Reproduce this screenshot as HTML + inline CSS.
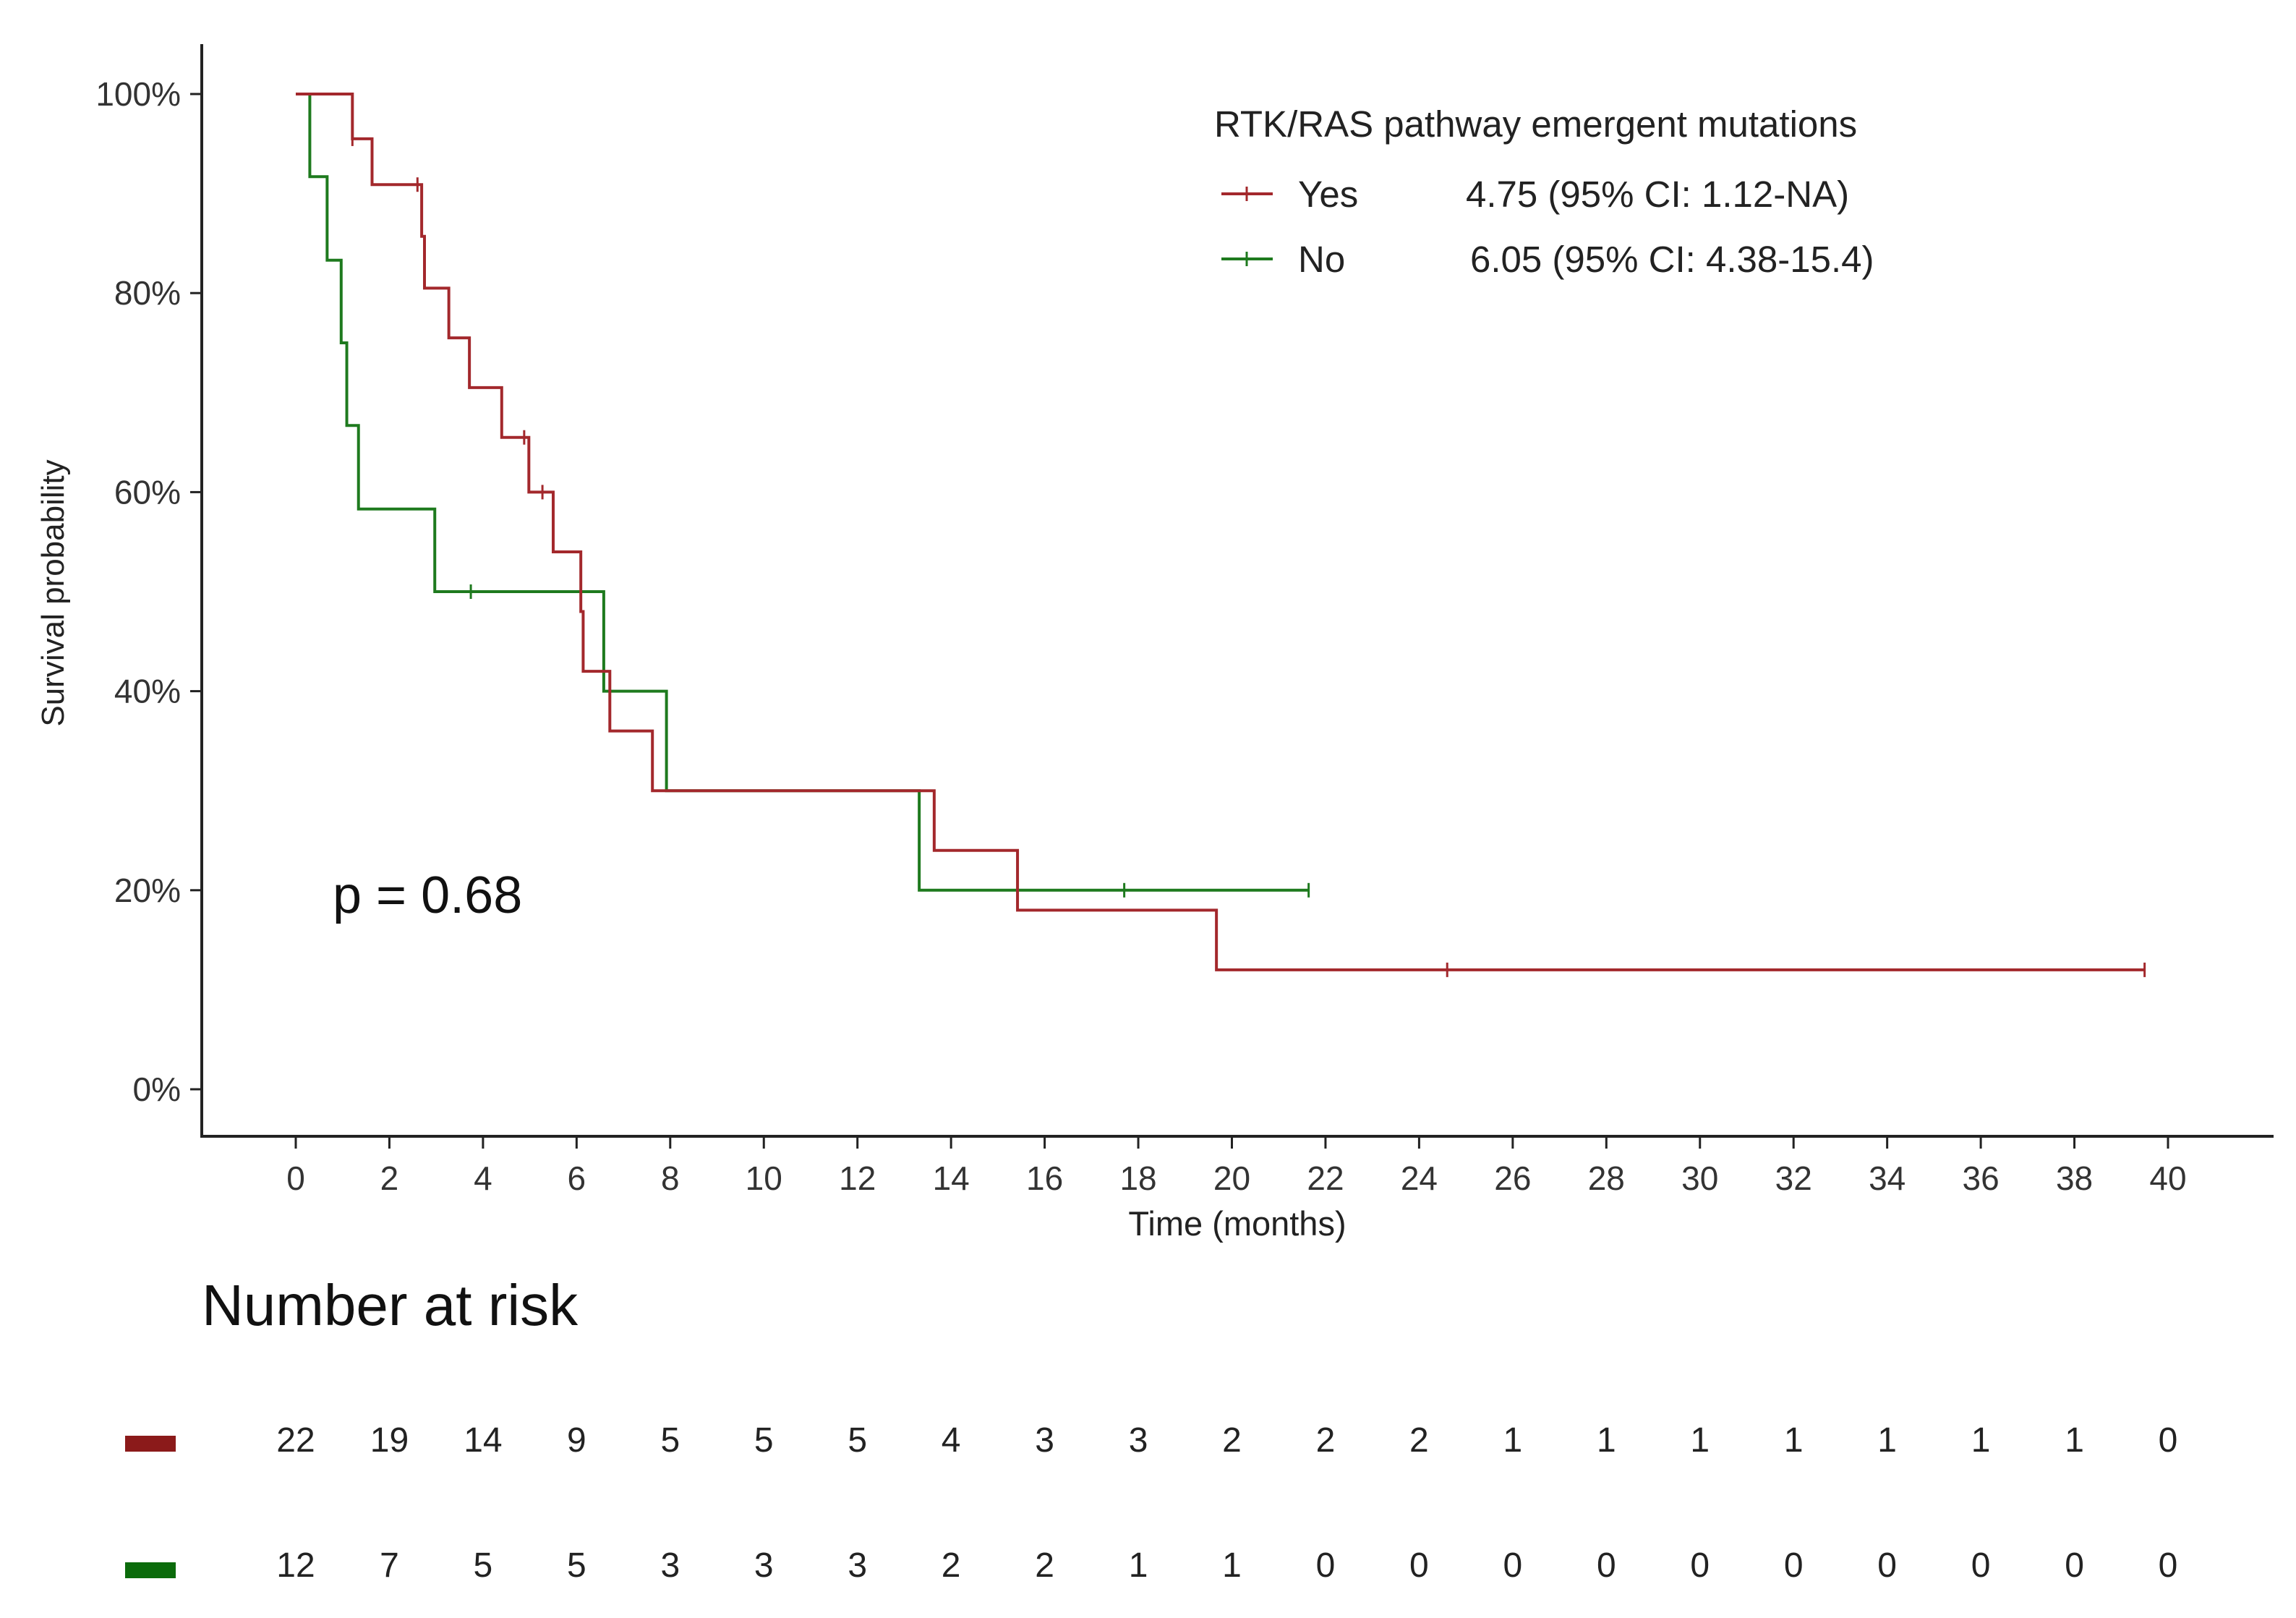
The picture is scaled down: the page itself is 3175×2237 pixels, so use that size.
<!DOCTYPE html>
<html><head><meta charset="utf-8"><style>
html,body{margin:0;padding:0;background:#fff;}
svg{display:block;font-family:"Liberation Sans",Arial,sans-serif;}
</style></head><body>
<svg id="chart" width="3175" height="2237" viewBox="0 0 3175 2237" xmlns="http://www.w3.org/2000/svg">
<g id="axes"></g>
<g id="curves"></g>
<g id="legend">
<text x="1679" y="189" font-size="51" fill="#222">RTK/RAS pathway emergent mutations</text>
<line x1="1689" y1="268" x2="1760" y2="268" stroke="#a3282c" stroke-width="4"/>
<line x1="1724" y1="258" x2="1724" y2="278" stroke="#a3282c" stroke-width="3"/>
<text x="1795" y="286" font-size="51" fill="#222">Yes</text>
<text x="2027" y="286" font-size="51" fill="#222">4.75 (95% CI: 1.12-NA)</text>
<line x1="1689" y1="358" x2="1760" y2="358" stroke="#1e7a1e" stroke-width="4"/>
<line x1="1724" y1="348" x2="1724" y2="368" stroke="#1e7a1e" stroke-width="3"/>
<text x="1795" y="376" font-size="51" fill="#222">No</text>
<text x="2033" y="376" font-size="51" fill="#222">6.05 (95% CI: 4.38-15.4)</text>
</g>
<text x="460" y="1262" font-size="72" fill="#111">p = 0.68</text>
<text x="279" y="1832" font-size="80" fill="#111">Number at risk</text>
<rect x="173" y="1985" width="70" height="22" fill="#8b1a1a"/>
<rect x="173" y="2160" width="70" height="22" fill="#0b6b0b"/>
<g id="risk"></g>
</svg>
<script>
const yTicks = [0, 0.2, 0.4, 0.6, 0.8, 1.0];
const yTickLabels = ["0%", "20%", "40%", "60%", "80%", "100%"];
const xTicks = [0,2,4,6,8,10,12,14,16,18,20,22,24,26,28,30,32,34,36,38,40];
const yesTimes = [0, 1.21, 1.63, 2.69, 2.75, 3.27, 3.71, 4.4, 4.98, 5.5, 6.09, 6.14, 6.71, 7.62, 13.64, 15.42, 19.67, 39.5];
const yesSurv  = [1.0, 0.955, 0.909, 0.857, 0.805, 0.755, 0.705, 0.655, 0.60, 0.54, 0.48, 0.42, 0.36, 0.30, 0.24, 0.18, 0.12, 0.12];
const yesCensorT = [1.21, 2.6, 4.88, 5.27, 24.6, 39.5];
const noTimes = [0, 0.3, 0.67, 0.97, 1.09, 1.34, 2.97, 6.58, 7.92, 13.32, 21.64];
const noSurv  = [1.0, 0.917, 0.833, 0.75, 0.667, 0.583, 0.50, 0.40, 0.30, 0.20, 0.20];
const noCensorT = [3.74, 17.7, 21.64];
const riskYes = [22,19,14,9,5,5,5,4,3,3,2,2,2,1,1,1,1,1,1,1,0];
const riskNo  = [12,7,5,5,3,3,3,2,2,1,1,0,0,0,0,0,0,0,0,0,0];

const NS = "http://www.w3.org/2000/svg";
const X = t => 409 + t * (2998 - 409) / 40;
const Y = s => 1506 - s * (1506 - 130);
function mk(tag, attrs, parent){ const e=document.createElementNS(NS,tag); for(const k in attrs) e.setAttribute(k,attrs[k]); parent.appendChild(e); return e; }

const axes = document.getElementById('axes');
let el = mk('line',{x1:279,y1:61,x2:279,y2:1573,stroke:'#222','stroke-width':4},axes);


el = mk('line',{x1:277,y1:1571,x2:3144,y2:1571,stroke:'#222','stroke-width':4},axes);


yTicks.forEach((v,i)=>{
  const t = mk('line',{x1:263,y1:Y(v),x2:279,y2:Y(v),stroke:'#222','stroke-width':3},axes);
  
  
  const l = mk('text',{x:250,y:Y(v)+16,'font-size':46,'text-anchor':'end',fill:'#333'},axes);
  l.textContent = yTickLabels[i];
  
  
});
xTicks.forEach(v=>{
  const t = mk('line',{x1:X(v),y1:1571,x2:X(v),y2:1588,stroke:'#222','stroke-width':3},axes);
  
  
  const l = mk('text',{x:X(v),y:1645,'font-size':46,'text-anchor':'middle',fill:'#333'},axes);
  l.textContent = v;
  
  
});
el = mk('text',{x:1711,y:1708,'font-size':47,'text-anchor':'middle',fill:'#222'},axes);
el.textContent = 'Time (months)';


el = mk('text',{x:0,y:0,'font-size':44,'text-anchor':'middle',fill:'#222',transform:'translate(88,820) rotate(-90)'},axes);
el.textContent = 'Survival probability';



const curves = document.getElementById('curves');
function stepPath(ts, ss){
  let d = 'M'+X(ts[0])+','+Y(ss[0]);
  for(let i=1;i<ts.length;i++){ d += ' H'+X(ts[i])+' V'+Y(ss[i]); }
  return d;
}
function survAt(ts, ss, t){ let s=ss[0]; for(let i=0;i<ts.length;i++){ if(ts[i]<=t) s=ss[i]; } return s; }
function drawSeries(ts, ss, cens, color, name){
  const p = mk('path',{d:stepPath(ts,ss),fill:'none',stroke:color,'stroke-width':4},curves);
  
  
  cens.forEach(t=>{
    const s = survAt(ts,ss,t);
    const c = mk('line',{x1:X(t),y1:Y(s)-10,x2:X(t),y2:Y(s)+10,stroke:color,'stroke-width':3},curves);
    
    
  });
}
drawSeries(noTimes, noSurv, noCensorT, '#1e7a1e', 'no');
drawSeries(yesTimes, yesSurv, yesCensorT, '#a3282c', 'yes');

const risk = document.getElementById('risk');
xTicks.forEach((v,i)=>{
  let t = mk('text',{x:X(v),y:2007,'font-size':48,'text-anchor':'middle',fill:'#222'},risk);
  t.textContent = riskYes[i];
  
  
  t = mk('text',{x:X(v),y:2180,'font-size':48,'text-anchor':'middle',fill:'#222'},risk);
  t.textContent = riskNo[i];
  
  
});
</script>
</body></html>
